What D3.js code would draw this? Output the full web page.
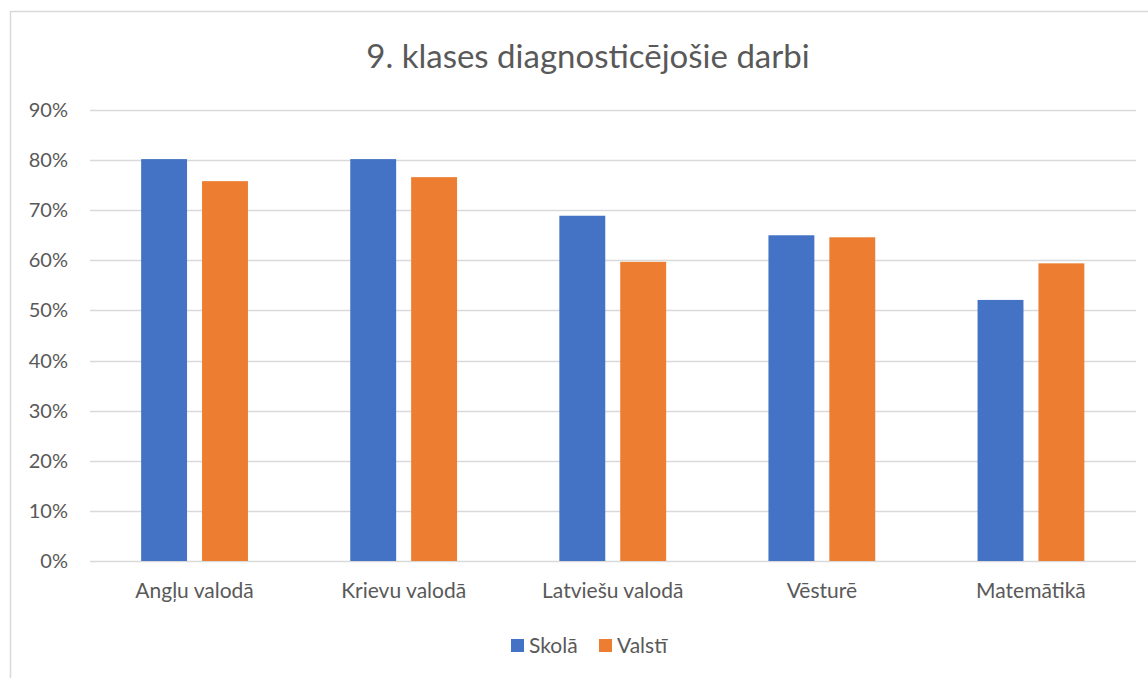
<!DOCTYPE html>
<html>
<head>
<meta charset="utf-8">
<script src="https://cdn.jsdelivr.net/npm/d3@7"></script>
<style>
  html, body { margin: 0; padding: 0; background: #fff; }
  svg { display: block; font-family: Lato, "Open Sans", sans-serif; }
</style>
</head>
<body>
<div id="chart"></div>
<script>
// 9th grade diagnostic tests: school vs national average, grouped bars.

const title = '9. klases diagnosticējošie darbi';
const categories = ['Angļu valodā', 'Krievu valodā', 'Latviešu valodā', 'Vēsturē', 'Matemātikā'];
const seriesNames = ['Skolā', 'Valstī'];
const skola = [0.802, 0.802, 0.689, 0.650, 0.521];
const valsti = [0.758, 0.766, 0.597, 0.646, 0.594];
const yTicks = [0, 0.1, 0.2, 0.3, 0.4, 0.5, 0.6, 0.7, 0.8, 0.9];

const colors = ['#4472C4', '#ED7D31'];
const ink = '#595959';

const W = 1148, H = 678;
const margin = { top: 110, right: 12, bottom: 117, left: 90 };

const svg = d3.select('#chart').append('svg')
  .attr('width', W).attr('height', H);

// chart frame (only top and left edges visible in the crop)
svg.append('rect')
  .attr('x', 10.5).attr('y', 11.5)
  .attr('width', W + 20).attr('height', H + 20)
  .attr('fill', '#fff').attr('stroke', '#D9D9D9').attr('stroke-width', 1.5);

svg.append('text')
  .attr('x', 588).attr('y', 68)
  .attr('text-anchor', 'middle')
  .style('font-size', '33px').style('fill', ink)
  .text(title);

const x0 = d3.scaleBand().domain(categories)
  .range([margin.left, W - margin.right - 0.5]);
const x1 = d3.scaleBand().domain(seriesNames)
  .range([0, x0.bandwidth()]).paddingInner(0.246).paddingOuter(0.84);
const y = d3.scaleLinear().domain([0, 0.9]).range([H - margin.bottom, margin.top]);

// gridlines
svg.append('g').selectAll('line').data(yTicks).enter().append('line')
  .attr('x1', margin.left).attr('x2', W - margin.right)
  .attr('y1', (d) => Math.round(y(d)) + 0.5).attr('y2', (d) => Math.round(y(d)) + 0.5)
  .attr('stroke', '#D9D9D9').attr('stroke-width', 1.3);

// y axis labels
svg.append('g').selectAll('text').data(yTicks).enter().append('text')
  .attr('x', 68).attr('y', (d) => y(d))
  .attr('dy', '0.35em').attr('text-anchor', 'end')
  .style('font-size', '20px').style('fill', ink)
  .text(d3.format('.0%'));

// bars
const rows = categories.map((c, i) => ({ cat: c, vals: [skola[i], valsti[i]] }));
const groups = svg.append('g').selectAll('g').data(rows).enter().append('g')
  .attr('transform', (d) => `translate(${x0(d.cat)},0)`);

groups.selectAll('rect')
  .data((d) => d.vals.map((v, j) => ({ name: seriesNames[j], v, j })))
  .enter().append('rect')
  .attr('x', (d) => x1(d.name))
  .attr('width', x1.bandwidth())
  .attr('y', (d) => y(d.v))
  .attr('height', (d) => y(0) - y(d.v))
  .attr('fill', (d) => colors[d.j]);

// category labels
svg.append('g').selectAll('text').data(categories).enter().append('text')
  .attr('x', (d) => x0(d) + x0.bandwidth() / 2)
  .attr('y', 598)
  .attr('text-anchor', 'middle')
  .style('font-size', '21px').style('fill', ink)
  .text((d) => d);

// legend
const legend = svg.append('g');
const legendX = [511, 599];
seriesNames.forEach((name, i) => {
  legend.append('rect')
    .attr('x', legendX[i]).attr('y', 639)
    .attr('width', 13).attr('height', 13)
    .attr('fill', colors[i]);
  legend.append('text')
    .attr('x', legendX[i] + 18).attr('y', 646)
    .attr('dy', '0.35em')
    .style('font-size', '21px').style('fill', ink)
    .text(name);
});
</script>
</body>
</html>
